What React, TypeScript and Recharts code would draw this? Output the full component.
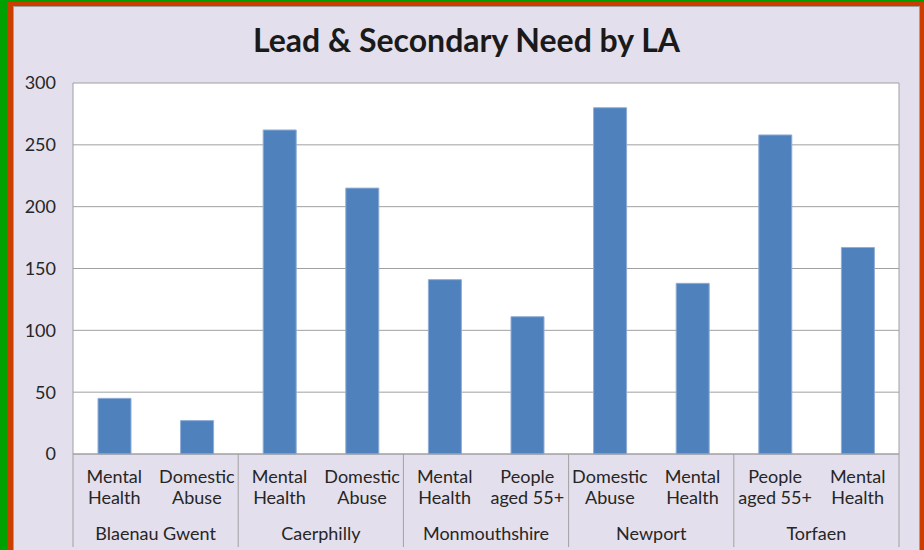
import React from 'react';
import { BarChart, Bar, XAxis, YAxis, CartesianGrid } from 'recharts';

const groups = ['Blaenau Gwent', 'Blaenau Gwent', 'Caerphilly', 'Caerphilly', 'Monmouthshire', 'Monmouthshire', 'Newport', 'Newport', 'Torfaen', 'Torfaen'];
const needs = ['Mental Health', 'Domestic Abuse', 'Mental Health', 'Domestic Abuse', 'Mental Health', 'People aged 55+', 'Domestic Abuse', 'Mental Health', 'People aged 55+', 'Mental Health'];
const values = [45, 27, 262, 215, 141, 111, 280, 138, 258, 167];
const yTicks = [0, 50, 100, 150, 200, 250, 300];
const title = 'Lead & Secondary Need by LA';

const data = needs.map((n, i) => ({ need: n, group: groups[i], value: values[i] }));

const FONT = 'Lato, "Open Sans", sans-serif';
const TEXT = '#262626';
const GRID = '#A0A0A0';

const NeedTick = (props: any) => {
  const { x, y, payload } = props;
  const s = String(payload.value);
  const i = s.indexOf(' ');
  const l1 = s.slice(0, i);
  const l2 = s.slice(i + 1);
  return (
    <text x={x} y={y} textAnchor="middle" fontFamily={FONT} fontSize={18} fill={TEXT}>
      <tspan x={x} dy={29}>{l1}</tspan>
      <tspan x={x} dy={21}>{l2}</tspan>
    </text>
  );
};

const GroupTick = (props: any) => {
  const { x, y, payload, index, visibleTicksCount } = props;
  const half = payload && payload.offset ? payload.offset : 82.6;
  const isLast = index === (visibleTicksCount ?? 5) - 1;
  return (
    <g>
      <line x1={x - half} x2={x - half} y1={y - 62} y2={y + 31} stroke={GRID} strokeWidth={1} />
      {isLast && <line x1={x + half} x2={x + half} y1={y - 62} y2={y + 31} stroke={GRID} strokeWidth={1} />}
      <text x={x} y={y + 24} textAnchor="middle" fontFamily={FONT} fontSize={18} fill={TEXT}>
        {payload.value}
      </text>
    </g>
  );
};

export default function App() {
  return (
    <div style={{ position: 'absolute', left: 0, top: 0, width: 924, height: 550, overflow: 'hidden', background: '#00A000' }}>
      <div style={{ position: 'absolute', left: 7, top: 2, right: 0, bottom: 0, background: '#CC3D00' }} />
      <div
        style={{
          position: 'absolute',
          left: 13,
          top: 6,
          width: 905,
          height: 560,
          background: '#E4DFEC',
          border: '1px solid #A0A0A0',
        }}
      />
      <div
        style={{
          position: 'absolute',
          left: 13,
          top: 20,
          width: 907,
          textAlign: 'center',
          fontFamily: FONT,
          fontWeight: 'bold',
          fontSize: 32,
          color: '#1a1a1a',
        }}
      >
        {title}
      </div>
      <div style={{ position: 'absolute', left: 0, top: 0 }}>
        <BarChart
          width={924}
          height={550}
          data={data}
          margin={{ top: 83, right: 25, bottom: 0, left: 0 }}
        >
          <CartesianGrid
            fill="#FFFFFF"
            stroke={GRID}
            verticalCoordinatesGenerator={({ offset }: any) => [offset.left + offset.width]}
          />
          <YAxis
            domain={[0, 300]}
            ticks={yTicks}
            width={73}
            axisLine={{ stroke: GRID }}
            tickLine={false}
            tickSize={0}
            tickMargin={17}
            tick={{ fontFamily: FONT, fontSize: 18, fill: TEXT }}
          />
          <XAxis
            dataKey="need"
            height={62}
            axisLine={{ stroke: GRID }}
            tickLine={false}
            tickSize={0}
            tickMargin={0}
            interval={0}
            tick={<NeedTick />}
          />
          <XAxis
            xAxisId="grp"
            dataKey="group"
            allowDuplicatedCategory={false}
            height={34}
            axisLine={false}
            tickLine={false}
            tickSize={0}
            tickMargin={0}
            interval={0}
            tick={<GroupTick />}
          />
          <Bar dataKey="value" barSize={33} fill="#4F81BD" stroke="#8FADD6" strokeWidth={1} isAnimationActive={false} />
        </BarChart>
      </div>
    </div>
  );
}
